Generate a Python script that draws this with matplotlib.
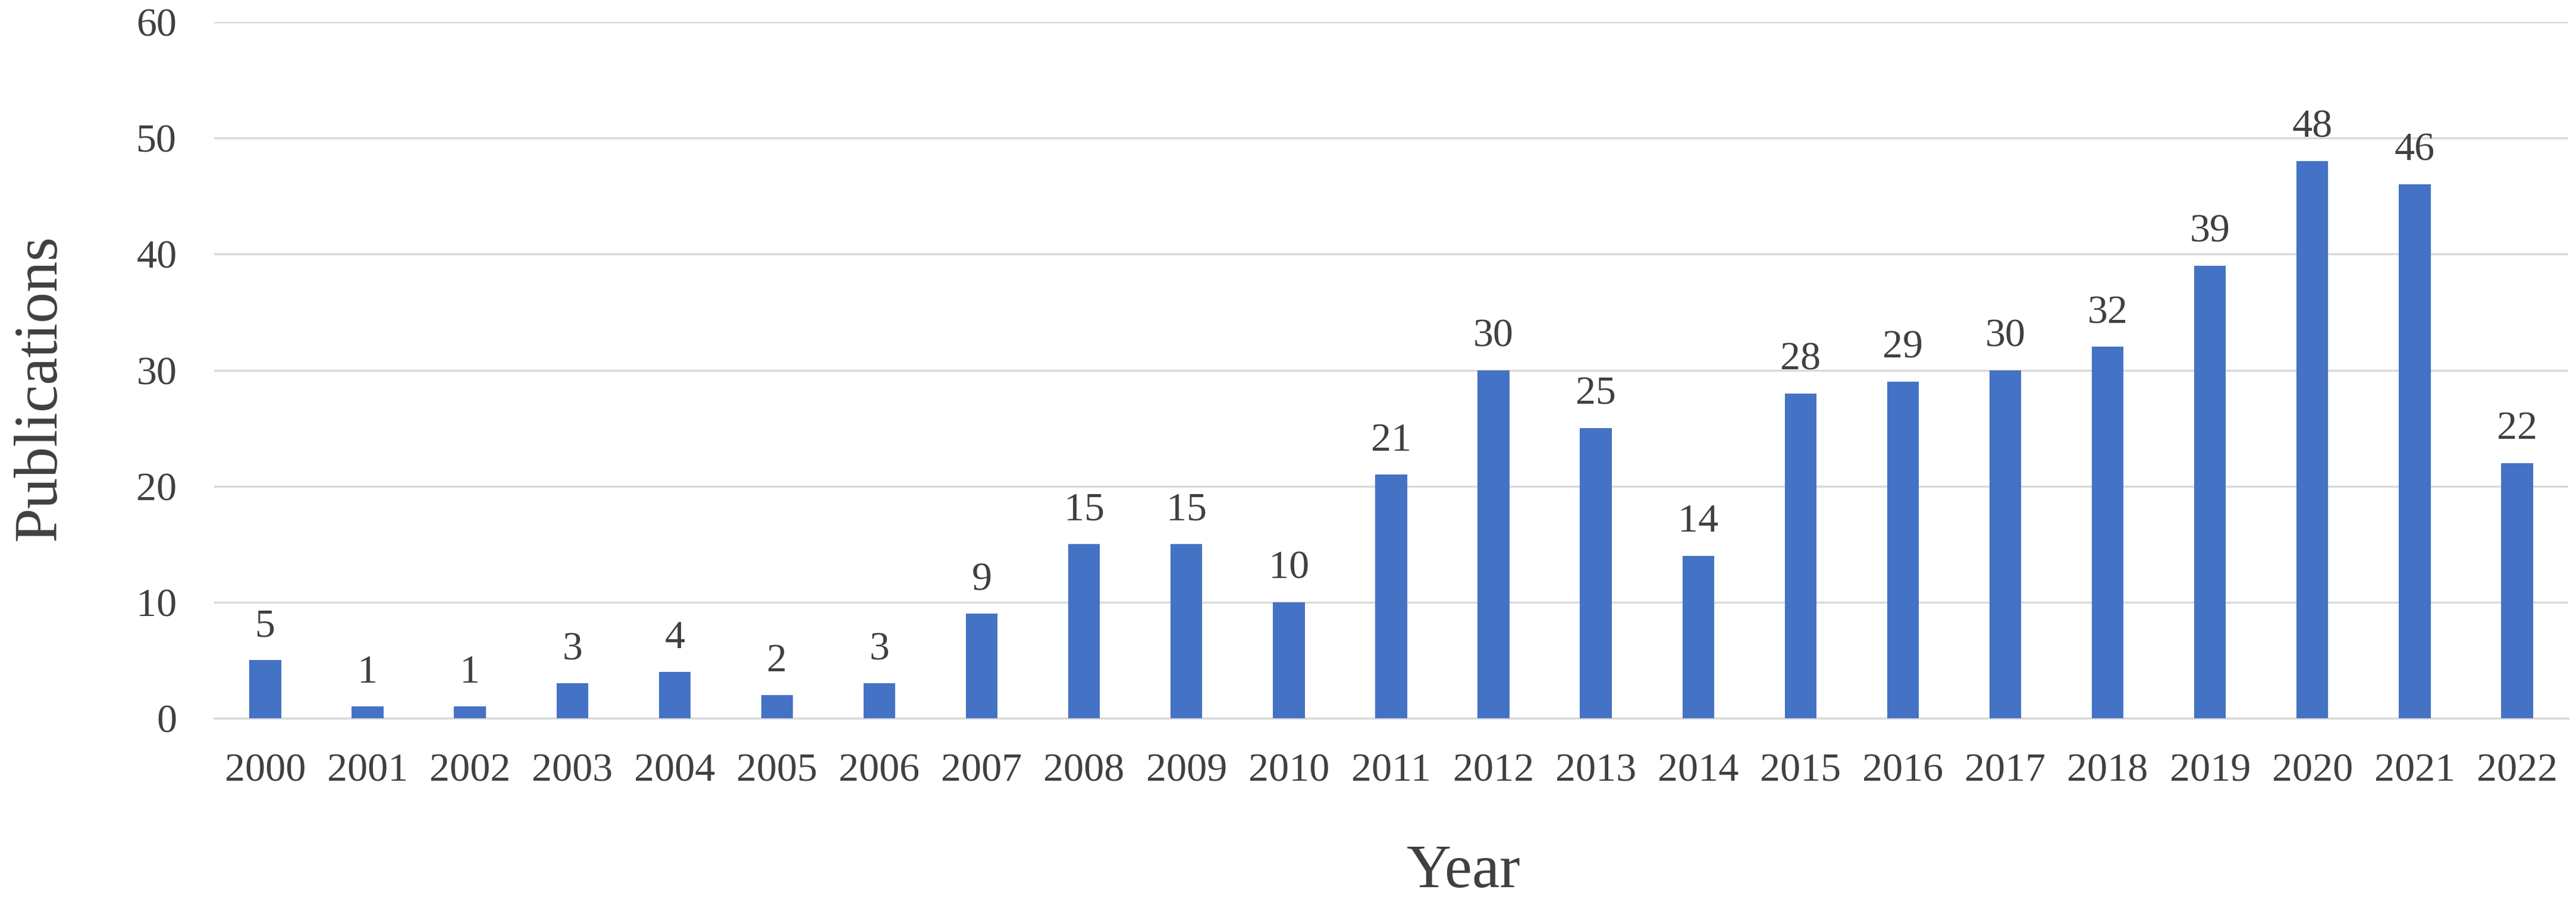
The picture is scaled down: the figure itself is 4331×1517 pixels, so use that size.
import numpy as np
import matplotlib.pyplot as plt

# publications per year
years = [str(y) for y in range(2000, 2023)]
counts = [5, 1, 1, 3, 4, 2, 3, 9, 15, 15, 10, 21, 30, 25, 14, 28, 29, 30, 32, 39, 48, 46, 22]
yticks = [0, 10, 20, 30, 40, 50, 60]

plt.rcParams['font.family'] = ['Liberation Serif', 'DejaVu Serif']
txt = '#404040'

fig = plt.figure(figsize=(43.31, 15.17), dpi=100)
ax = fig.add_axes([0.0831, 0.2037, 0.9139, 0.7719])

x = np.arange(len(years))
bars = ax.bar(x, counts, width=0.31, color='#4472C4', zorder=3)

for b, v in zip(bars, counts):
    ax.annotate(str(v), (b.get_x() + b.get_width() / 2, v),
                xytext=(0, 29), textcoords='offset points',
                ha='center', va='baseline', fontsize=49, color=txt)

ax.set_xlim(-0.5, len(years) - 0.5)
ax.set_ylim(0, 60)
ax.set_xticks(x)
ax.set_xticklabels(years)
ax.set_yticks(yticks)
ax.tick_params(axis='both', length=0, labelsize=49, labelcolor=txt)
ax.tick_params(axis='x', pad=42)
ax.tick_params(axis='y', pad=45)
ax.grid(axis='y', color='#D9D9D9', linewidth=2.5, zorder=0)
for s in ['top', 'right', 'left']:
    ax.spines[s].set_visible(False)
ax.spines['bottom'].set_color('#D9D9D9')
ax.spines['bottom'].set_linewidth(2.5)

fig.text(68 / 4331, 1 - 653 / 1517, 'Publications', rotation=90,
         ha='center', va='center', fontsize=75, color=txt)
fig.text(2461 / 4331, 0.002, 'Year', ha='center', va='bottom',
         fontsize=75, color=txt)

fig.savefig('out.png', dpi=100, facecolor='white')
